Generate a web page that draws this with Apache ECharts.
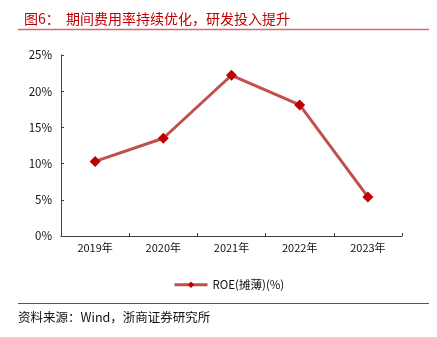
<!DOCTYPE html>
<html><head><meta charset="utf-8">
<script src="https://cdn.jsdelivr.net/npm/echarts@6/dist/echarts.min.js"></script>
<style>html,body{margin:0;padding:0;background:#fff}#c{width:437px;height:337px}</style>
</head><body><div id="c"></div>
<script>
const categories = ['2019年','2020年','2021年','2022年','2023年'];
const roeValues = [10.3, 13.5, 22.2, 18.1, 5.4];
const seriesName = 'ROE(摊薄)(%)';
const titleText = '图6：  期间费用率持续优化，研发投入提升';
const sourceText = '资料来源：Wind，浙商证券研究所';

const chart = echarts.init(document.getElementById('c'), null, {renderer:'canvas'});
const font = '"Noto Sans CJK SC", "Liberation Sans", sans-serif';
chart.setOption({
  backgroundColor:'#fff',
  animation:false,
  title:{text:titleText, left:19, top:7,
    textStyle:{color:'#c00000', fontSize:14, fontWeight:'normal', fontFamily:font}},
  graphic:[
    {type:'line', shape:{x1:18,y1:29.5,x2:429,y2:29.5}, style:{stroke:'#d9696b', lineWidth:1.5}},
    {type:'line', shape:{x1:18,y1:303.5,x2:429,y2:303.5}, style:{stroke:'#d92020', lineWidth:1}},
    {type:'text', left:18, top:311, style:{text:sourceText, fill:'#111', font:'12.5px '+font}}
  ],
  legend:{data:[seriesName], left:168, top:274, itemWidth:33, itemHeight:8, itemGap:3,
    lineStyle:{width:3},
    textStyle:{color:'#111', fontSize:11.5, fontFamily:font}},
  grid:{left:61, right:35, top:55, bottom:101, containLabel:false},
  xAxis:{type:'category', data:categories, boundaryGap:true,
    axisLine:{lineStyle:{color:'#404040', width:1}},
    axisTick:{show:true, inside:true, length:3, lineStyle:{color:'#404040'}},
    axisLabel:{color:'#111', fontSize:11, fontFamily:font, margin:6}},
  yAxis:{type:'value', min:0, max:25, interval:5,
    axisLine:{show:true, lineStyle:{color:'#404040', width:1}},
    axisTick:{show:true, inside:true, length:3, lineStyle:{color:'#404040'}},
    splitLine:{show:false},
    axisLabel:{color:'#111', fontSize:11.5, fontFamily:font, margin:9, formatter:'{value}%'}},
  series:[{name:seriesName, type:'line', data:roeValues,
    symbol:'diamond', symbolSize:11,
    lineStyle:{color:'#c0504d', width:3},
    itemStyle:{color:'#c00000'}}]
});
</script></body></html>
